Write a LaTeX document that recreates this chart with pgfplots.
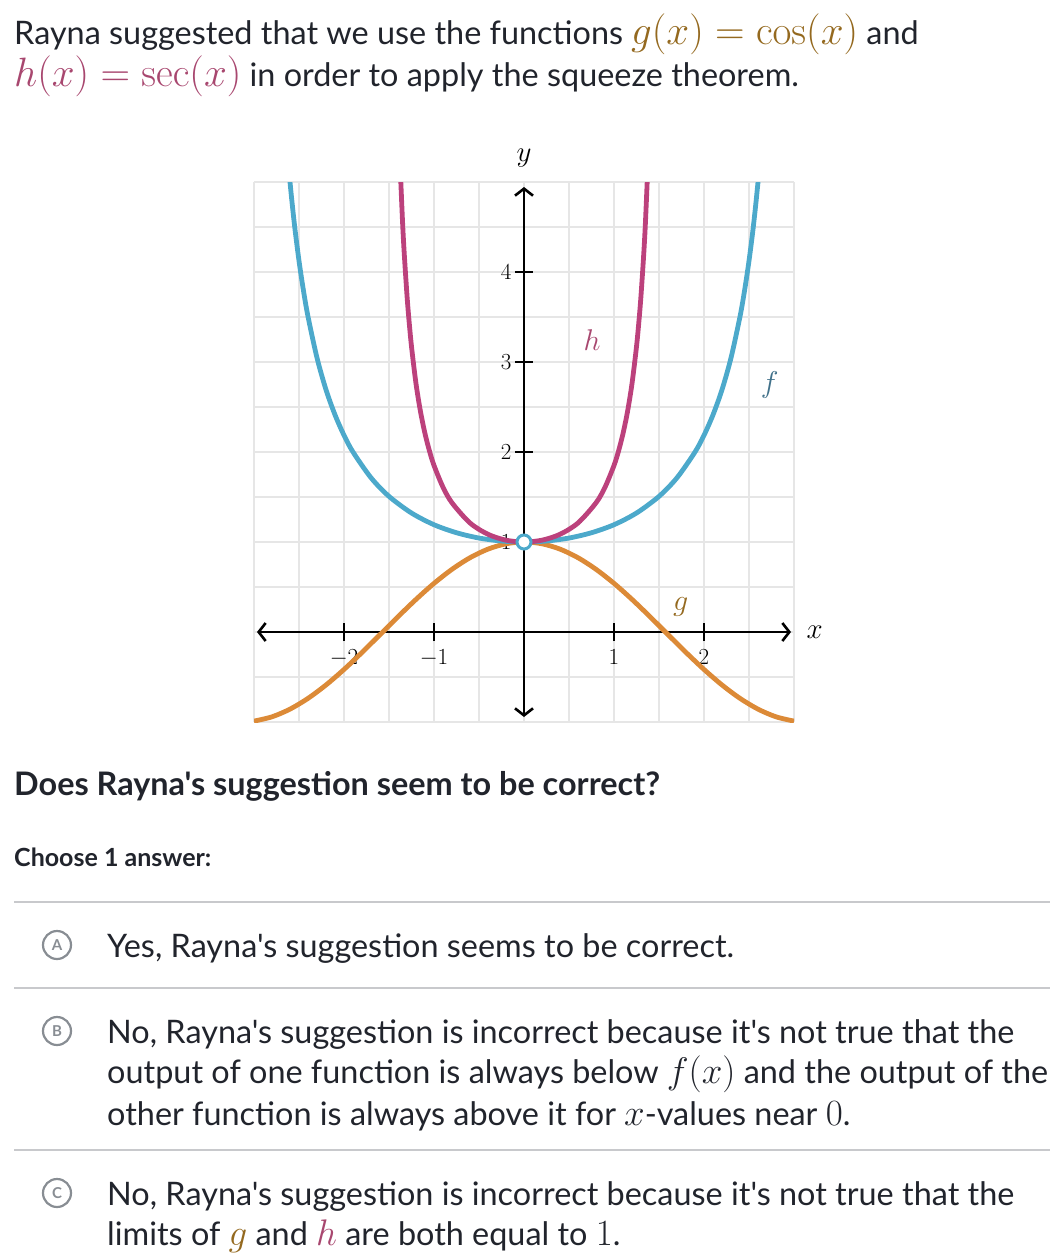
\RequirePackage{fix-cm}
\documentclass[border=0pt]{standalone}
\usepackage{pgfplots}
\pgfplotsset{compat=1.18}
\usepackage[no-math]{fontspec}
\setmainfont{Lato}[Ligatures=TeXOff]
\usetikzlibrary{arrows.meta}
\definecolor{txt}{HTML}{21242C}
\definecolor{goldc}{HTML}{94691F}
\definecolor{maroonc}{HTML}{A8476F}
\definecolor{bluec}{HTML}{4CA9CB}
\definecolor{magc}{HTML}{BC417C}
\definecolor{orc}{HTML}{DC8A37}
\definecolor{flab}{HTML}{41718A}
\definecolor{gridc}{HTML}{E6E6E6}
\definecolor{badge}{HTML}{888D93}
\definecolor{sep}{HTML}{C8C9CC}
\newcommand\mth[1]{{\fontsize{37}{44}\selectfont$#1$}}
\newcommand\mthH[1]{{\fontsize{41}{48}\selectfont$#1$}}
\newcommand\T{\fontsize{32.4}{38}\selectfont}
\begin{document}
\begin{tikzpicture}
\useasboundingbox (0pt,0pt) rectangle (1058pt,-1260pt);
% header text
\node[anchor=base west,inner sep=0,text=txt] at (14pt,-45pt) {\T Rayna suggested that we use the functions \mthH{\color{goldc}g(x)=\cos(x)} and};
\node[anchor=base west,inner sep=0,text=txt] at (14pt,-87pt) {\T \mthH{\color{maroonc}h(x)=\sec(x)} in order to apply the squeeze theorem.};
% chart
\begin{axis}[
  at={(254pt,-722pt)}, anchor=south west,
  width=540pt, height=540pt, scale only axis,
  xmin=-3, xmax=3, ymin=-1, ymax=5,
  axis lines=middle,
  clip mode=individual,
  xtick={-2,-1,1,2}, ytick={1,2,3,4},
  minor xtick={-3,-2.5,...,3}, minor ytick={-1,-0.5,...,5},
  grid=both,
  major grid style={gridc, line width=2.8pt},
  minor grid style={gridc, line width=2.8pt},
  major tick length=18pt, minor tick length=0pt,
  tick align=center,
  tick style={black, line width=2pt},
  tick label style={font=\fontsize{23}{27}\selectfont, text=black},
  xticklabel style={yshift=-5pt},
  x axis line style={line width=2.6pt, black, {Straight Barb[length=7pt,width=18pt]}-{Straight Barb[length=7pt,width=18pt]}, shorten <=3pt, shorten >=3pt},
  y axis line style={line width=2.6pt, black, {Straight Barb[length=7pt,width=18pt]}-{Straight Barb[length=7pt,width=18pt]}, shorten <=5pt, shorten >=5pt},
  axis on top=false,
]
% g = cos(x)
\addplot[orc, line width=4.8pt, smooth] coordinates {
(-3.0,-0.98999) (-2.8,-0.94222) (-2.6,-0.85689) (-2.4,-0.73739) (-2.2,-0.58850)
(-2.0,-0.41615) (-1.8,-0.22720) (-1.6,-0.02920) (-1.4,0.16997) (-1.2,0.36236)
(-1.0,0.54030) (-0.8,0.69671) (-0.6,0.82534) (-0.4,0.92106) (-0.2,0.98007)
(0,1)
(0.2,0.98007) (0.4,0.92106) (0.6,0.82534) (0.8,0.69671) (1.0,0.54030)
(1.2,0.36236) (1.4,0.16997) (1.6,-0.02920) (1.8,-0.22720) (2.0,-0.41615)
(2.2,-0.58850) (2.4,-0.73739) (2.6,-0.85689) (2.8,-0.94222) (3.0,-0.98999)
};
% f
\addplot[bluec, line width=4.8pt, smooth] coordinates {
(-2.65,5.590) (-2.6,5.000) (-2.55,4.521) (-2.5,4.124) (-2.45,3.790) (-2.4,3.505)
(-2.3,3.046) (-2.2,2.692) (-2.1,2.413) (-2.0,2.186) (-1.9,2.000) (-1.7,1.714)
(-1.5,1.507) (-1.25,1.322) (-1.0,1.192) (-0.75,1.103) (-0.5,1.044) (-0.25,1.011)
(0,1)
(0.25,1.011) (0.5,1.044) (0.75,1.103) (1.0,1.192) (1.25,1.322) (1.5,1.507)
(1.7,1.714) (1.9,2.000) (2.0,2.186) (2.1,2.413) (2.2,2.692) (2.3,3.046)
(2.4,3.505) (2.45,3.790) (2.5,4.124) (2.55,4.521) (2.6,5.000) (2.65,5.590)
};
% h = sec(x)
\addplot[magc, line width=4.8pt, smooth] coordinates {
(-1.38,5.27) (-1.35,4.566) (-1.33,4.193) (-1.3,3.7383) (-1.28,3.488) (-1.25,3.1714)
(-1.2,2.7597) (-1.15,2.4480) (-1.1,2.2046) (-1.05,2.0098) (-1.0,1.8508) (-0.9,1.6087)
(-0.8,1.4353) (-0.6,1.2116) (-0.4,1.0857) (-0.2,1.0203)
(0,1)
(0.2,1.0203) (0.4,1.0857) (0.6,1.2116) (0.8,1.4353) (0.9,1.6087) (1.0,1.8508)
(1.05,2.0098) (1.1,2.2046) (1.15,2.4480) (1.2,2.7597) (1.25,3.1714) (1.28,3.488)
(1.3,3.7383) (1.33,4.193) (1.35,4.566) (1.38,5.27)
};
% open circle
\addplot[only marks, mark=*, mark size=7pt, mark options={fill=white, draw=bluec, line width=3pt}] coordinates {(0,1)};
% labels
\node[text=maroonc, font=\fontsize{30}{34}\selectfont] at (axis cs:0.756,3.24) {$h$};
\node[text=flab, font=\fontsize{30}{34}\selectfont] at (axis cs:2.73,2.74) {$f$};
\node[text=goldc, font=\fontsize{30}{34}\selectfont] at (axis cs:1.74,0.28) {$g$};
\node[font=\fontsize{29}{33}\selectfont] at (axis cs:0,5.27) {$y$};
\node[font=\fontsize{29}{33}\selectfont] at (axis cs:3.23,0) {$x$};
\end{axis}
% question
\node[anchor=base west,inner sep=0,text=txt] at (14pt,-795pt) {\T\bfseries Does Rayna's suggestion seem to be correct?};
\node[anchor=base west,inner sep=0,text=txt] at (14pt,-866pt) {\fontsize{25}{30}\selectfont\bfseries Choose 1 answer:};
% separators
\draw[sep, line width=1.5pt] (14pt,-902pt) -- (1050pt,-902pt);
\draw[sep, line width=1.5pt] (14pt,-988pt) -- (1050pt,-988pt);
\draw[sep, line width=1.5pt] (14pt,-1150pt) -- (1050pt,-1150pt);
% badges
\foreach \yy/\ll in {945/A,1031/B,1193/C}{
  \draw[badge, line width=2.2pt] (57pt,-\yy pt) circle (14pt);
  \node[text=badge, font=\fontsize{15}{18}\selectfont\bfseries] at (57pt,-\yy pt) {\ll};
}
% answers
\node[anchor=base west,inner sep=0,text=txt] at (107pt,-957pt) {\T Yes, Rayna's suggestion seems to be correct.};
\node[anchor=base west,inner sep=0,text=txt] at (107pt,-1043pt) {\T No, Rayna's suggestion is incorrect because it's not true that the};
\node[anchor=base west,inner sep=0,text=txt] at (107pt,-1083pt) {\T output of one function is always below \mth{f(x)} and the output of the};
\node[anchor=base west,inner sep=0,text=txt] at (107pt,-1125pt) {\T other function is always above it for \mth{x}-values near \mth{0}.};
\node[anchor=base west,inner sep=0,text=txt] at (107pt,-1205pt) {\T No, Rayna's suggestion is incorrect because it's not true that the};
\node[anchor=base west,inner sep=0,text=txt] at (107pt,-1245pt) {\T limits of \mth{\color{goldc}g} and \mth{\color{maroonc}h} are both equal to \mth{1}.};
\end{tikzpicture}
\end{document}
